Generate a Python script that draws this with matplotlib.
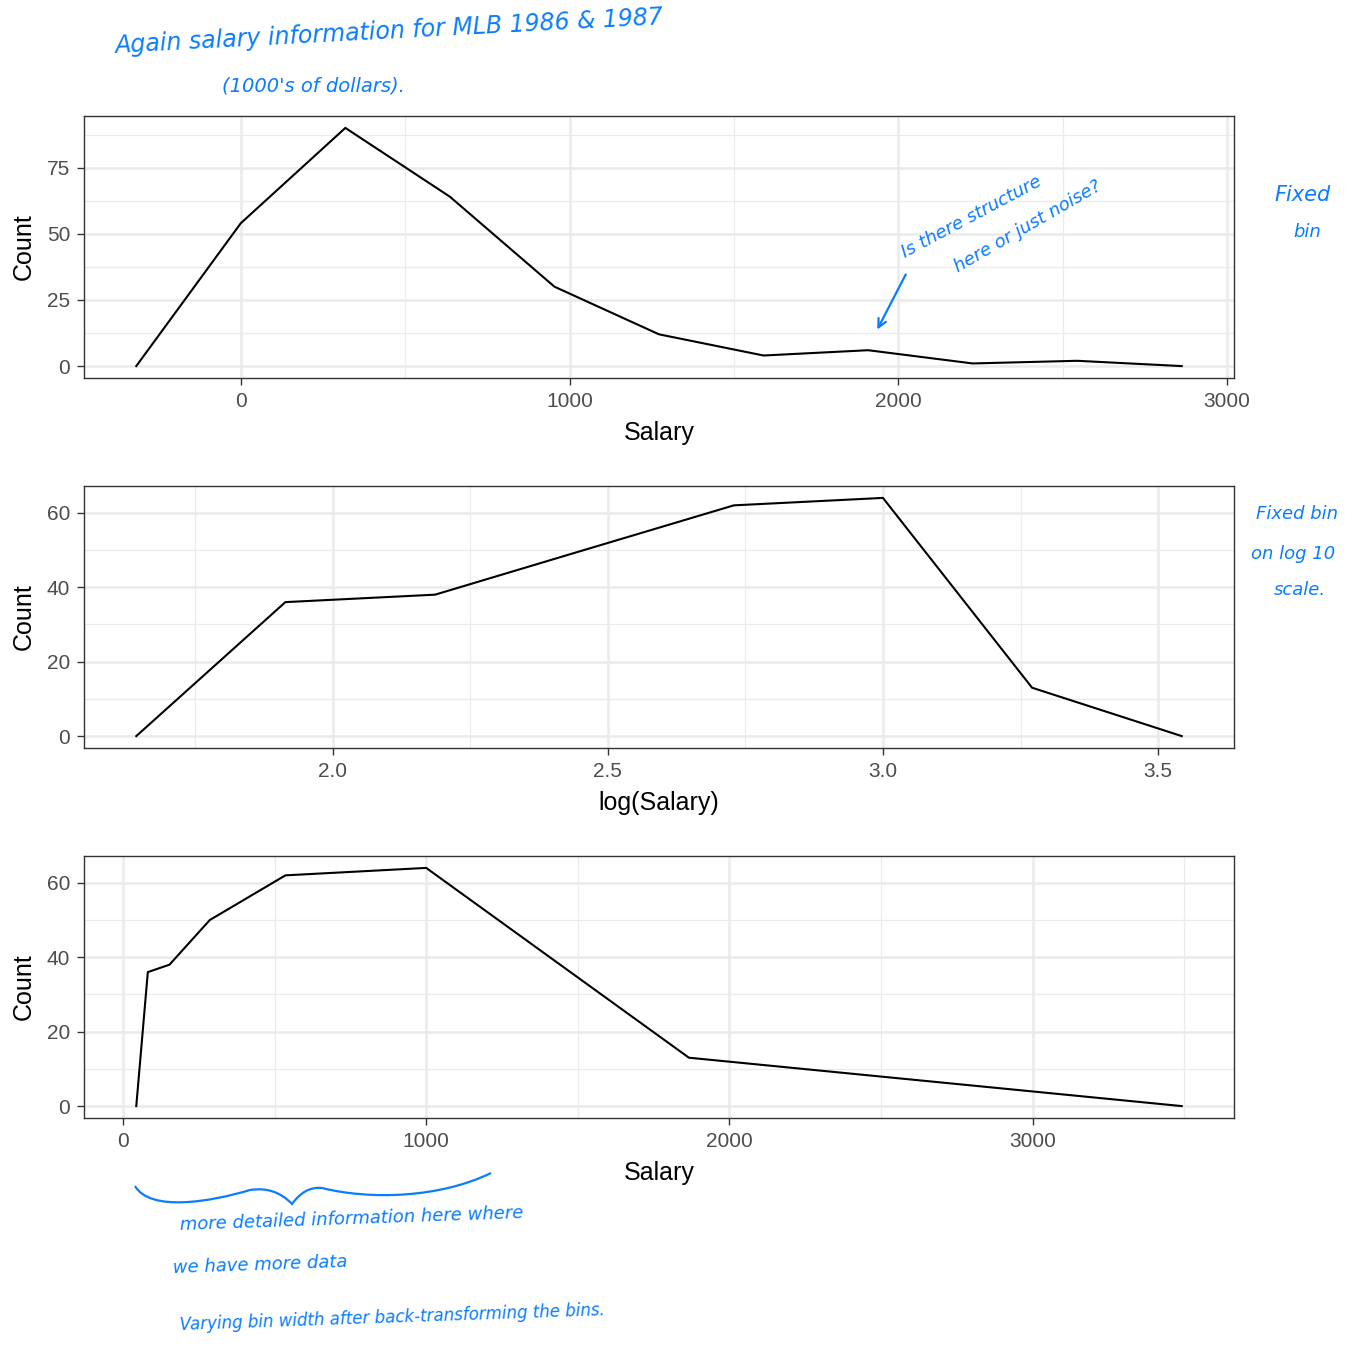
import numpy as np
import matplotlib
matplotlib.use("Agg")
import matplotlib.pyplot as plt
from matplotlib.path import Path
from matplotlib.patches import PathPatch, FancyArrowPatch

# Fixed bins on the raw salary scale (bin centers, counts)
salary_centers = [-318, 0, 318, 636, 954, 1272, 1590, 1908, 2226, 2544, 2862]
salary_counts = [0, 54, 90, 64, 30, 12, 4, 6, 1, 2, 0]

# Fixed bins on the log10 scale
log_centers = [1.643, 1.914, 2.186, 2.457, 2.729, 3.0, 3.271, 3.543]
log_counts = [0, 36, 38, 50, 62, 64, 13, 0]

# same bins, back transformed
back_centers = [10 ** v for v in log_centers]
back_counts = log_counts

blue = "#0a7cff"
plt.rcParams['font.family'] = ['Liberation Sans', 'DejaVu Sans']

fig = plt.figure(figsize=(13.58, 13.51), dpi=100)
W, H = 1358, 1351


def make_axes(top, bottom):
    return fig.add_axes([84 / W, 1 - bottom / H, 1150 / W, (bottom - top) / H])


def style(ax, xticks, xminor, yticks, yminor, xlabel):
    ax.set_xticks(xticks)
    ax.set_xticks(xminor, minor=True)
    ax.set_yticks(yticks)
    ax.set_yticks(yminor, minor=True)
    ax.grid(which='major', color='#ebebeb', lw=1.8, zorder=0)
    ax.grid(which='minor', color='#ebebeb', lw=0.9, zorder=0)
    ax.set_axisbelow(True)
    for s in ax.spines.values():
        s.set_color('#333333')
        s.set_linewidth(1.0)
    ax.tick_params(which='major', length=5, width=1.0, color='#333333',
                   labelcolor='#4d4d4d', labelsize=15, pad=5)
    ax.tick_params(which='minor', length=0)
    ax.set_xlabel(xlabel, fontsize=18, labelpad=7)
    ax.set_ylabel('Count', fontsize=18, labelpad=8)


def pad(lo, hi, f=0.05):
    r = hi - lo
    return lo - f * r, hi + f * r


# panel 1
ax1 = make_axes(116, 378)
ax1.plot(salary_centers, salary_counts, color='black', lw=1.5, zorder=3)
ax1.set_xlim(*pad(min(salary_centers), max(salary_centers)))
ax1.set_ylim(*pad(0, max(salary_counts)))
style(ax1, [0, 1000, 2000, 3000], [500, 1500, 2500],
      [0, 25, 50, 75], [12.5, 37.5, 62.5, 87.5], 'Salary')

# panel 2
ax2 = make_axes(486, 748)
ax2.plot(log_centers, log_counts, color='black', lw=1.5, zorder=3)
ax2.set_xlim(*pad(min(log_centers), max(log_centers)))
ax2.set_ylim(*pad(0, max(log_counts)))
style(ax2, [2.0, 2.5, 3.0, 3.5], [1.75, 2.25, 2.75, 3.25],
      [0, 20, 40, 60], [10, 30, 50], 'log(Salary)')
ax2.set_xticklabels(['2.0', '2.5', '3.0', '3.5'])

# panel 3
ax3 = make_axes(856, 1118)
ax3.plot(back_centers, back_counts, color='black', lw=1.5, zorder=3)
ax3.set_xlim(*pad(min(back_centers), max(back_centers)))
ax3.set_ylim(*pad(0, max(back_counts)))
style(ax3, [0, 1000, 2000, 3000], [500, 1500, 2500, 3500],
      [0, 20, 40, 60], [10, 30, 50], 'Salary')


# handwritten notes (pixel coords -> figure fraction)
def note(x, y, s, size, rot=0, ha='left', va='center'):
    fig.text(x / W, 1 - y / H, s, color=blue, fontsize=size, style='italic',
             rotation=rot, ha=ha, va=va, family='DejaVu Sans',
             rotation_mode='anchor')


note(115, 46, 'Again salary information for MLB 1986 & 1987', 17, rot=3)
note(222, 86, "(1000's of dollars).", 14)
note(903, 254, 'Is there structure', 13, rot=28)
note(955, 268, 'here or just noise?', 13, rot=30)
note(1303, 195, 'Fixed', 15, ha='center')
note(1307, 232, 'bin', 13, ha='center')
note(1297, 514, 'Fixed bin', 13, ha='center')
note(1293, 554, 'on log 10', 13, ha='center')
note(1300, 590, 'scale.', 13, ha='center')
note(180, 1225, 'more detailed information here where', 13, rot=2)
note(173, 1268, 'we have more data', 13, rot=2)
note(180, 1325, 'Varying bin width after back-transforming the bins.', 12, rot=2)

arr = FancyArrowPatch((907 / W, 1 - 272 / H), (876 / W, 1 - 332 / H),
                      transform=fig.transFigure, arrowstyle='->,head_length=6,head_width=3',
                      color=blue, lw=1.6)
fig.patches.append(arr)

# curly brace under the low-salary region
pts = [(135, 1186), (150, 1212), (210, 1202), (250, 1190),
       (275, 1186), (292, 1204),
       (305, 1186), (322, 1188),
       (370, 1200), (440, 1198), (491, 1173)]
codes = [Path.MOVETO, Path.CURVE4, Path.CURVE4, Path.CURVE4,
         Path.CURVE3, Path.CURVE3,
         Path.CURVE3, Path.CURVE3,
         Path.CURVE4, Path.CURVE4, Path.CURVE4]
verts = [(x / W, 1 - y / H) for x, y in pts]
brace = PathPatch(Path(verts, codes), transform=fig.transFigure,
                  fill=False, edgecolor=blue, lw=1.6)
fig.patches.append(brace)

fig.savefig('out.png', dpi=100, facecolor='white')
